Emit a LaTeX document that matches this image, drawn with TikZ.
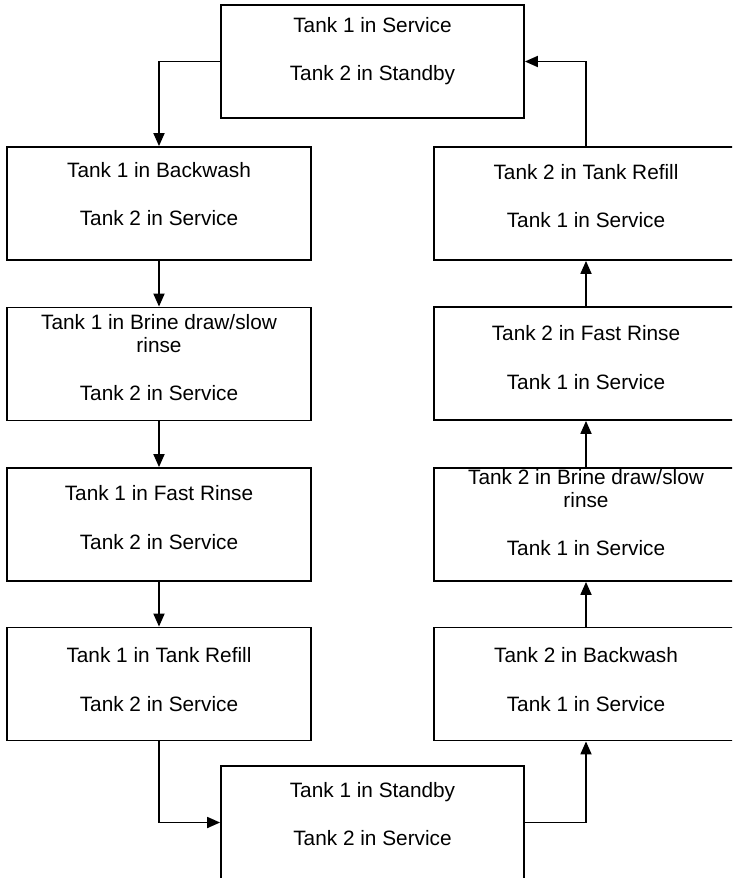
\documentclass[tikz,border=0pt]{standalone}
\usepackage{fontspec}
\setmainfont{Liberation Sans}
\usetikzlibrary{arrows.meta}
\begin{document}
\begin{tikzpicture}[x=1pt,y=-1pt,
  box/.style={draw, line width=1.8pt, rectangle, minimum width=304pt, minimum height=113pt, inner sep=0pt},
  txt/.style={anchor=base, inner sep=0pt, font=\fontsize{20.8}{24}\selectfont},
  arr/.style={line width=1.8pt, -{Triangle[length=13pt,width=11pt]}}]
\useasboundingbox (0,0) rectangle (732,878);
\clip (0,0) rectangle (732,878);
% boxes
\node[box, minimum width=303pt] (t) at (372.5,61.5) {};
\node[box] (l1) at (159,203.5) {};
\node[box] (l2) at (159,364) {};
\node[box] (l3) at (159,524.5) {};
\node[box] (l4) at (159,684) {};
\node[box] (r1) at (586,203.5) {};
\node[box] (r2) at (586,363.5) {};
\node[box] (r3) at (586,524.5) {};
\node[box] (r4) at (586,684) {};
\node[box, minimum width=303pt] (b) at (372.5,822.5) {};
% texts
\node[txt] (t1) at (372.5,32) {Tank 1 in Service};
\node[txt] (t2) at (372.5,80) {Tank 2 in Standby};
\node[txt] (l1a) at (159,177) {Tank 1 in Backwash};
\node[txt] (l1b) at (159,225) {Tank 2 in Service};
\node[txt] (l2a) at (159,329) {Tank 1 in Brine draw/slow};
\node[txt] (l2b) at (159,352) {rinse};
\node[txt] (l2c) at (159,400) {Tank 2 in Service};
\node[txt] (l3a) at (159,500) {Tank 1 in Fast Rinse};
\node[txt] (l3b) at (159,549) {Tank 2 in Service};
\node[txt] (l4a) at (159,662) {Tank 1 in Tank Refill};
\node[txt] (l4b) at (159,711) {Tank 2 in Service};
\node[txt] (r1a) at (586,179) {Tank 2 in Tank Refill};
\node[txt] (r1b) at (586,227) {Tank 1 in Service};
\node[txt] (r2a) at (586,340) {Tank 2 in Fast Rinse};
\node[txt] (r2b) at (586,389) {Tank 1 in Service};
\node[txt] (r3a) at (586,484) {Tank 2 in Brine draw/slow};
\node[txt] (r3b) at (586,507) {rinse};
\node[txt] (r3c) at (586,555) {Tank 1 in Service};
\node[txt] (r4a) at (586,662) {Tank 2 in Backwash};
\node[txt] (r4b) at (586,711) {Tank 1 in Service};
\node[txt] (b1) at (372.5,797) {Tank 1 in Standby};
\node[txt] (b2) at (372.5,845) {Tank 2 in Service};
% connectors
\draw[arr] (t.west) -| (l1.north);
\draw[arr] (l1.south) -- (l2.north);
\draw[arr] (l2.south) -- (l3.north);
\draw[arr] (l3.south) -- (l4.north);
\draw[arr] (l4.south) |- (b.west);
\draw[arr] (b.east) -| (r4.south);
\draw[arr] (r4.north) -- (r3.south);
\draw[arr] (r3.north) -- (r2.south);
\draw[arr] (r2.north) -- (r1.south);
\draw[arr] (r1.north) |- (t.east);
\end{tikzpicture}
\end{document}
